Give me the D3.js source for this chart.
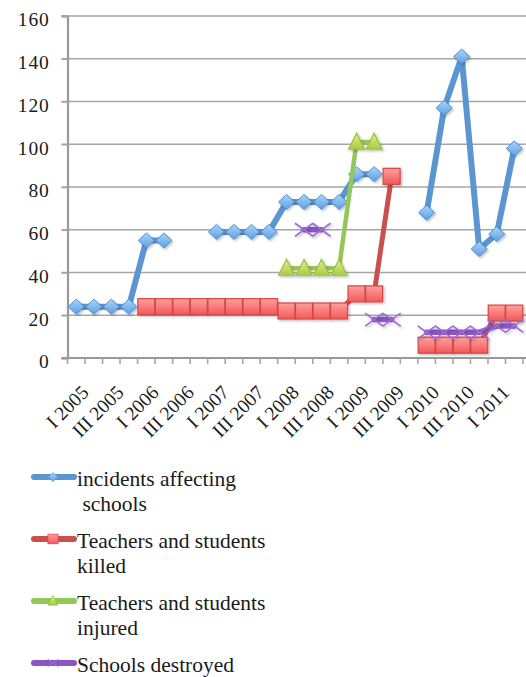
<!DOCTYPE html>
<html>
<head>
<meta charset="utf-8">
<script src="https://cdn.jsdelivr.net/npm/d3@7"></script>
<style>
  body { margin: 0; background: #fff; }
  svg { display: block; }
</style>
</head>
<body>
<div id="chart"></div>
<script>
// Quartale (nur jedes zweite wird beschriftet)
var quarters = ["I 2005","II 2005","III 2005","IV 2005",
  "I 2006","II 2006","III 2006","IV 2006",
  "I 2007","II 2007","III 2007","IV 2007",
  "I 2008","II 2008","III 2008","IV 2008",
  "I 2009","II 2009","III 2009","IV 2009",
  "I 2010","II 2010","III 2010","IV 2010",
  "I 2011","II 2011"]

var yTicks = [0,20,40,60,80,100,120,140,160]

// Datenreihen (null = Lücke)
var incidents = [24,24,24,24,55,55,null,null,59,59,59,59,73,73,73,73,86,86,null,null,68,117,141,51,58,98]
var killed    = [null,null,null,null,24,24,24,24,24,24,24,24,22,22,22,22,30,30,85,null,6,6,6,6,21,21]
var injured   = [null,null,null,null,null,null,null,null,null,null,null,null,42,42,42,42,101,101,null,null,null,null,null,null,null,null]
var destroyed = [null,null,null,null,null,null,null,null,null,null,null,null,null,60,60,null,null,18,18,null,12,12,12,12,15,15]

var seriesNames = [["incidents affecting"," schools"],["Teachers and students","killed"],["Teachers and students","injured"],["Schools destroyed"]]

var width = 526
var height = 677

var plot = { left: 67.5, right: 523, top: 16, bottom: 358 }

var svg = d3.select("#chart")
  .append("svg")
  .attr("width", width)
  .attr("height", height)

var defs = svg.append("defs")

// leichter Schatten unter den Markern
var shadow = defs.append("filter").attr("id", "shadow")
  .attr("x", "-50%").attr("y", "-50%").attr("width", "200%").attr("height", "200%")
shadow.append("feDropShadow")
  .attr("dx", 1.5).attr("dy", 1.5).attr("stdDeviation", 1.2)
  .attr("flood-color", "#000").attr("flood-opacity", 0.25)

function gradient(id, top, bottom){
  var g = defs.append("linearGradient").attr("id", id)
    .attr("x1", 0).attr("y1", 0).attr("x2", 0).attr("y2", 1)
  g.append("stop").attr("offset", "0%").attr("stop-color", top)
  g.append("stop").attr("offset", "100%").attr("stop-color", bottom)
}
gradient("gBlue", "#a9d4fb", "#5d9fe2")
gradient("gRed", "#ffa0a0", "#f05858")
gradient("gGreen", "#e4ee8e", "#aacb48")

var x = d3.scaleBand()
  .domain(d3.range(quarters.length))
  .range([plot.left, plot.right])

var y = d3.scaleLinear()
  .domain([0,160])
  .range([plot.bottom, plot.top])

function cx(i){ return x(i) + x.bandwidth()/2 }

// Gitternetzlinien
svg.append("g")
  .selectAll("line")
  .data(yTicks.filter(function(d){ return d > 0 }))
  .enter()
  .append("line")
    .attr("x1", plot.left - 6)
    .attr("x2", width)
    .attr("y1", function(d){ return y(d) })
    .attr("y2", function(d){ return y(d) })
    .attr("stroke", "#a6a6a6")
    .attr("stroke-width", 1.6)

// Y-Achse
var yAxis = svg.append("g")
  .attr("transform", "translate(" + plot.left + ",0)")
  .call(d3.axisLeft(y).tickValues(yTicks).tickSize(6).tickPadding(12))
yAxis.select(".domain").attr("stroke", "#999").attr("stroke-width", 2.2)
yAxis.selectAll(".tick line").attr("stroke", "#a6a6a6").attr("stroke-width", 1.6)
yAxis.selectAll(".tick text")
  .attr("fill", "#1a1a1a")
  .attr("dy", "0.5em")
  .style("font-family", "Liberation Serif, serif")
  .style("font-size", "19.5px")
  .style("letter-spacing", "0.8px")

// X-Achse
var xAxis = svg.append("g")
  .attr("transform", "translate(0," + plot.bottom + ")")
xAxis.append("line")
  .attr("x1", plot.left - 6).attr("x2", width)
  .attr("stroke", "#999").attr("stroke-width", 2.2)
xAxis.selectAll(".xt")
  .data(d3.range(quarters.length + 1))
  .enter()
  .append("line")
    .attr("x1", function(d){ return plot.left + d * x.step() })
    .attr("x2", function(d){ return plot.left + d * x.step() })
    .attr("y1", 0).attr("y2", 6)
    .attr("stroke", "#a6a6a6").attr("stroke-width", 1.6)
xAxis.selectAll(".xl")
  .data(d3.range(0, quarters.length, 2))
  .enter()
  .append("text")
    .attr("transform", function(d){ return "translate(" + (cx(d) + 4) + ",26) rotate(-45)" })
    .attr("text-anchor", "end")
    .attr("dy", "0.7em")
    .attr("fill", "#1a1a1a")
    .style("font-family", "Liberation Serif, serif")
    .style("font-size", "19.5px")
    .text(function(d){ return quarters[d] })

// Markerformen
function diamond(s){ s.append("path").attr("d", "M0,-7.5L8,0L0,7.5L-8,0Z")
  .attr("fill", "url(#gBlue)").attr("stroke", "#4f8fd0").attr("stroke-width", 1) }
function square(s){ s.append("rect").attr("x", -8.5).attr("y", -8).attr("width", 17).attr("height", 16)
  .attr("fill", "url(#gRed)").attr("stroke", "#d94444").attr("stroke-width", 1.2) }
function triangle(s){ s.append("path").attr("d", "M0,-9L8,7L-8,7Z")
  .attr("fill", "url(#gGreen)").attr("stroke", "#9dc23f").attr("stroke-width", 1.2) }
function cross(s){ s.append("path").attr("d", "M-9,-6.5L9,6.5M-9,6.5L9,-6.5")
  .attr("fill", "none").attr("stroke", "#9e6cd6").attr("stroke-width", 1.6) }

var series = [
  { values: incidents, color: "#5b96d1", width: 6,   marker: diamond },
  { values: killed,    color: "#c9504f", width: 5,   marker: square },
  { values: injured,   color: "#93c75a", width: 4.5, marker: triangle },
  { values: destroyed, color: "#8d55c4", width: 5.5, marker: cross }
]

var line = d3.line()
  .defined(function(d){ return d != null })
  .x(function(d,i){ return cx(i) })
  .y(function(d){ return y(d) })

series.forEach(function(s){
  var g = svg.append("g")
  g.append("path")
    .attr("d", line(s.values))
    .attr("fill", "none")
    .attr("stroke", s.color)
    .attr("stroke-width", s.width)
    .attr("stroke-linejoin", "round")
    .attr("stroke-linecap", "round")
  var pts = s.values.map(function(v,i){ return { v: v, i: i } }).filter(function(d){ return d.v != null })
  var m = g.selectAll(".m")
    .data(pts)
    .enter()
    .append("g")
      .attr("filter", "url(#shadow)")
      .attr("transform", function(d){ return "translate(" + cx(d.i) + "," + y(d.v) + ")" })
  m.each(function(){ s.marker(d3.select(this)) })
})

// Legende
var legendY = [477, 539, 601, 663]
var legend = svg.append("g")
series.forEach(function(s, k){
  var row = legend.append("g").attr("transform", "translate(0," + legendY[k] + ")")
  row.append("line")
    .attr("x1", 34).attr("x2", 74)
    .attr("stroke", s.color).attr("stroke-width", 6).attr("stroke-linecap", "round")
  var mk = row.append("g").attr("transform", "translate(53,0) scale(0.6)")
  s.marker(mk)
  row.selectAll("text")
    .data(seriesNames[k])
    .enter()
    .append("text")
      .attr("x", 77)
      .attr("y", function(d,i){ return 9 + i * 25 })
      .attr("fill", "#1a1a1a")
      .style("font-family", "Liberation Serif, serif")
      .style("font-size", "21.5px")
      .style("white-space", "pre")
      .text(function(d){ return d })
})
</script>
</body>
</html>
